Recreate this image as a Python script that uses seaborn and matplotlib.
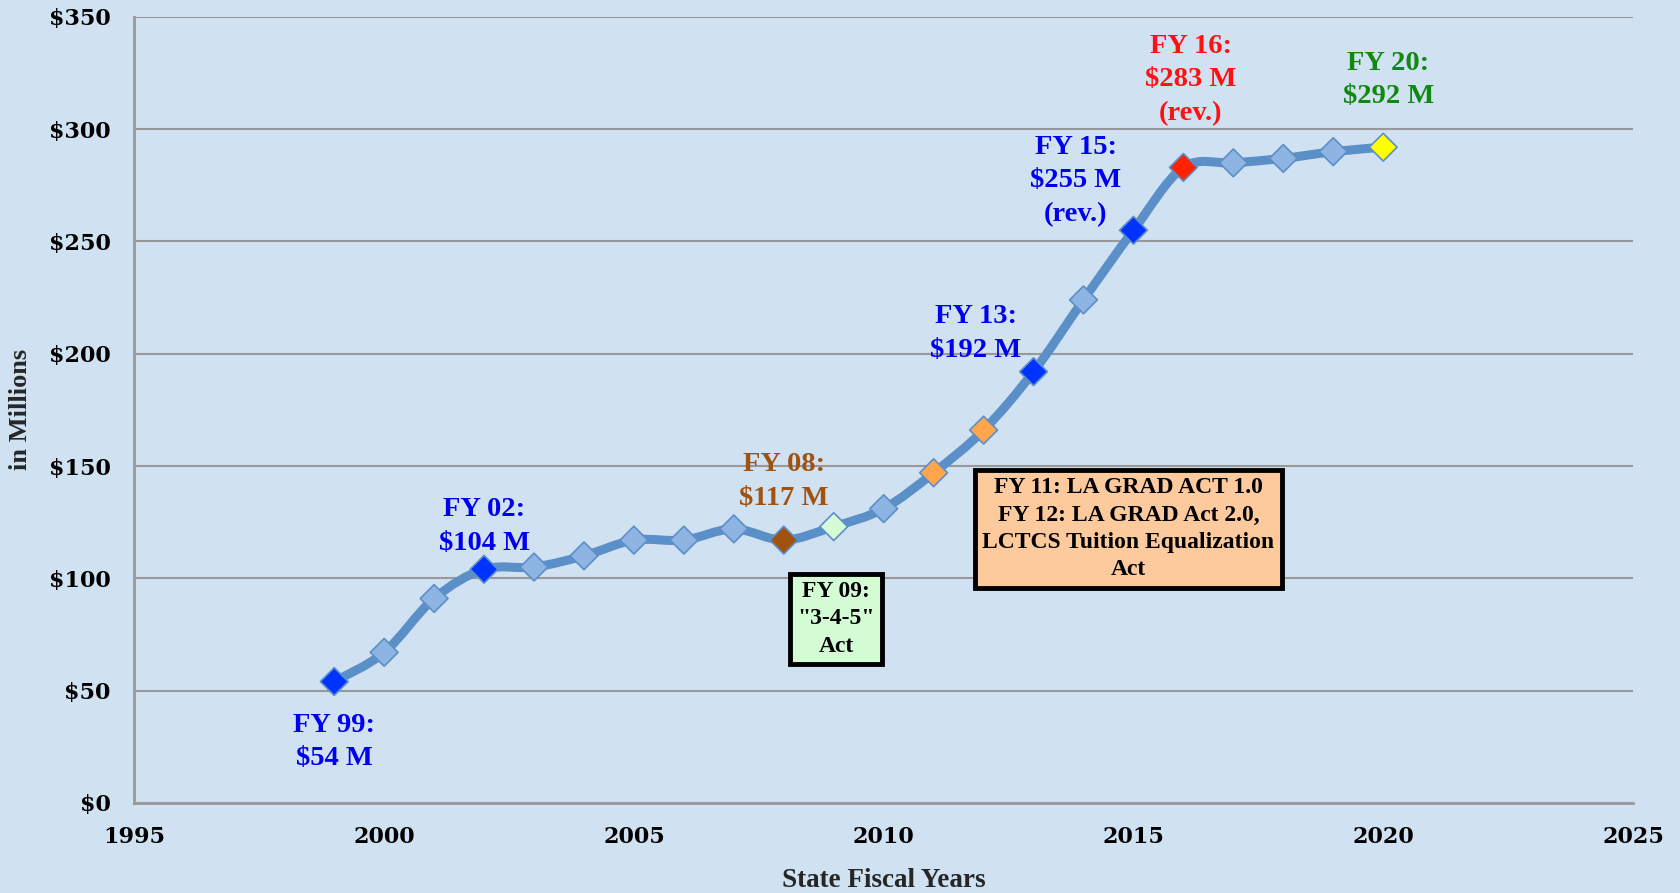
import matplotlib.pyplot as plt
from matplotlib.path import Path
from matplotlib.patches import PathPatch
import numpy as np
import pandas as pd
import seaborn as sns

#%% data (state fiscal years, $ millions)
years = [1999, 2000, 2001, 2002, 2003, 2004, 2005, 2006, 2007, 2008, 2009,
         2010, 2011, 2012, 2013, 2014, 2015, 2016, 2017, 2018, 2019, 2020]
amounts = [54, 67, 91, 104, 105, 110, 117, 117, 122, 117, 123,
           131, 147, 166, 192, 224, 255, 283, 285, 287, 290, 292]
# fill colour of each diamond
marker_colors = ['#0033ff', '#8db4e2', '#8db4e2', '#0033ff', '#8db4e2', '#8db4e2',
                 '#8db4e2', '#8db4e2', '#8db4e2', '#a0520f', '#d6fcd6',
                 '#8db4e2', '#ffa64d', '#ffa64d', '#0033ff', '#8db4e2', '#0033ff',
                 '#ff2200', '#8db4e2', '#8db4e2', '#8db4e2', '#ffff00']

# callouts: text, anchor (year, $M), colour
callout_text = ['FY 99:\n$54 M', 'FY 02:\n$104 M', 'FY 08:\n$117 M', 'FY 13:\n$192 M',
                'FY 15:\n$255 M\n(rev.)', 'FY 16:\n$283 M\n(rev.)', 'FY 20:\n$292 M']
callout_x = [1999.0, 2002.0, 2008.0, 2011.85, 2013.85, 2016.15, 2020.1]
callout_y = [27, 123, 143, 209, 277, 322, 322]
callout_color = ['#0000ee', '#0000ee', '#a0520f', '#0000ee', '#0000ee', '#ff1111', '#118811']

box_text = ['FY 09:\n"3-4-5"\nAct',
            'FY 11: LA GRAD ACT 1.0\nFY 12: LA GRAD Act 2.0,\nLCTCS Tuition Equalization\nAct']
box_x = [2009.05, 2014.9]
box_y = [82, 122]
box_face = ['#d4fcd4', '#fdca9e']

df = pd.DataFrame({'year': years, 'amount': amounts, 'color': marker_colors})

#%% style
bg = '#d0e1f2'
sns.set_style('white', {'axes.facecolor': bg, 'figure.facecolor': bg})
plt.rcParams['font.family'] = ['DejaVu Serif']

fig = plt.figure(figsize=(16.8, 8.93), dpi=100)
ax = fig.add_axes([0.080, 0.101, 0.892, 0.880])

# smoothed line (Excel-style bezier through the points)
pts = np.column_stack([df.year, df.amount]).astype(float)
verts = [pts[0]]
codes = [Path.MOVETO]
n = len(pts)
for i in range(n - 1):
    p0 = pts[max(i - 1, 0)]
    p1 = pts[i]
    p2 = pts[i + 1]
    p3 = pts[min(i + 2, n - 1)]
    verts += [p1 + (p2 - p0) / 6, p2 - (p3 - p1) / 6, p2]
    codes += [Path.CURVE4] * 3
ax.add_patch(PathPatch(Path(verts, codes), facecolor='none', edgecolor='#5b8fc7',
                       lw=6.5, capstyle='round', joinstyle='round', zorder=3))

sns.scatterplot(data=df, x='year', y='amount', marker='D', s=200, c=df.color,
                edgecolor='#5b8fc7', linewidth=1.2, ax=ax, zorder=4, legend=False)

for t, x, y, c in zip(callout_text, callout_x, callout_y, callout_color):
    ax.text(x, y, t, color=c, ha='center', va='center', fontsize=20.5,
            fontweight='bold', family='Liberation Serif', linespacing=1.45, zorder=5)

for t, x, y, fc in zip(box_text, box_x, box_y, box_face):
    ax.text(x, y, t, color='black', ha='center', va='center', fontsize=17,
            fontweight='bold', family='Liberation Serif', linespacing=1.4, zorder=5,
            bbox=dict(boxstyle='square,pad=0.3', facecolor=fc, edgecolor='black', lw=3.5))

#%% axes
ax.set_xlim(1995, 2025)
ax.set_ylim(0, 350)
ax.set_xticks(range(1995, 2026, 5))
ax.set_yticks(range(0, 351, 50))
ax.set_yticklabels([f'${v}' for v in range(0, 351, 50)])
ax.yaxis.grid(True, color='#999999', lw=1.5)
ax.set_axisbelow(True)
for s in ['top', 'right']:
    ax.spines[s].set_visible(False)
for s in ['left', 'bottom']:
    ax.spines[s].set_color('#999999')
    ax.spines[s].set_linewidth(2)
ax.tick_params(axis='both', colors='#999999', length=8, width=1.5, labelcolor='black',
               labelsize=16, pad=9)
for lab in ax.get_xticklabels() + ax.get_yticklabels():
    lab.set_fontweight('bold')

ax.set_xlabel('State Fiscal Years', fontsize=19.5, fontweight='bold',
              family='Liberation Serif', labelpad=14)
ax.set_ylabel('in Millions', fontsize=19, fontweight='bold',
              family='Liberation Serif', labelpad=12)

fig.savefig('out.png', dpi=100, facecolor=bg)
